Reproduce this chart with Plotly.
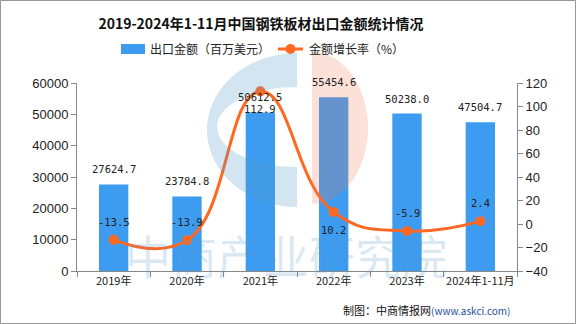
import math
import plotly.graph_objects as go

categories = ["2019年", "2020年", "2021年", "2022年", "2023年", "2024年1-11月"]
export_value = [27624.7, 23784.8, 50612.5, 55454.6, 50238.0, 47504.7]
growth_rate = [-13.5, -13.9, 112.9, 10.2, -5.9, 2.4]
growth_label_side = [1, 1, -1, -1, 1, 1]  # 1 = above point, -1 = below
series_names = ["出口金额（百万美元）", "金额增长率（%）"]

bar_color = "#3D9CF0"
line_color = "#FF6820"
font_cjk = "Noto Sans CJK SC, DejaVu Sans, sans-serif"
font_num = "DejaVu Sans Mono, monospace"

W, H = 576, 324
ML, MR, MT, MB = 77, 59, 83, 53
PW, PH = W - ML - MR, H - MT - MB


def px2paper(px, py):
    return (px - ML) / PW, (H - MB - py) / PH


def poly_path(points):
    pts = [px2paper(x, y) for x, y in points]
    return "M " + " L ".join(f"{x:.4f},{y:.4f}" for x, y in pts) + " Z"


def ell(cx, cy, rx, ry, a0, a1, step):
    return [(cx + rx * math.cos(math.radians(a)), cy - ry * math.sin(math.radians(a)))
            for a in range(a0, a1 + (1 if step > 0 else -1), step)]


fig = go.Figure()

fig.add_trace(go.Bar(
    x=categories, y=export_value, name=series_names[0],
    marker=dict(color=bar_color, line=dict(width=0)),
    width=0.4, showlegend=False,
))

fig.add_trace(go.Scatter(
    x=categories, y=growth_rate, name=series_names[1], yaxis="y2",
    mode="lines+markers",
    line=dict(color=line_color, width=3, shape="spline", smoothing=1.3),
    marker=dict(color=line_color, size=10),
    cliponaxis=False, showlegend=False,
))

for c, v in zip(categories, export_value):
    fig.add_annotation(x=c, y=v, xref="x", yref="y", text=f"{v:.1f}", showarrow=False,
                       yshift=15, font=dict(size=10.5, color="#222", family=font_num))

for c, v, s in zip(categories, growth_rate, growth_label_side):
    fig.add_annotation(x=c, y=v, xref="x", yref="y2", text=f"{v:.1f}", showarrow=False,
                       yshift=18 * s, font=dict(size=10.5, color="#222", family=font_num))

fig.update_layout(
    width=W, height=H,
    margin=dict(l=ML, r=MR, t=MT, b=MB, autoexpand=False),
    paper_bgcolor="white", plot_bgcolor="rgba(0,0,0,0)",
    font=dict(family=font_cjk, color="#222"),
    title=dict(text="<b>2019-2024年1-11月中国钢铁板材出口金额统计情况</b>",
               xref="paper", x=(261 - ML) / PW, xanchor="center", y=0.925, yanchor="middle",
               font=dict(size=14, color="#111", family=font_cjk)),
    showlegend=False,
    bargap=0.6,
    xaxis=dict(type="category", showline=True, linecolor="#888", linewidth=1,
               ticks="outside", tickson="boundaries", ticklen=5, tickcolor="#888",
               tickangle=0, automargin=False,
               tickfont=dict(size=11, color="#222"), showgrid=False, zeroline=False),
    yaxis=dict(range=[0, 60000], dtick=10000, showline=True, linecolor="#888",
               ticks="outside", ticklen=5, tickcolor="#888", showgrid=False,
               zeroline=False, tickfont=dict(size=13, color="#222", family="Liberation Sans, Arial"),
               tickformat="d", automargin=False),
    yaxis2=dict(range=[-40, 120], dtick=20, overlaying="y", side="right",
                showline=True, linecolor="#888", ticks="outside", ticklen=5,
                tickcolor="#888", showgrid=False, zeroline=False, automargin=False,
                tickfont=dict(size=13, color="#222", family="Liberation Sans, Arial")),
)

# legend (drawn manually to match the reference's wide swatches)
lx0, ly0 = px2paper(121, 54)
lx1, ly1 = px2paper(145, 44)
fig.add_shape(type="rect", xref="paper", yref="paper", x0=lx0, x1=lx1, y0=ly0, y1=ly1,
              fillcolor=bar_color, line=dict(width=0))
tx, ty = px2paper(148, 49)
fig.add_annotation(text=series_names[0], xref="paper", yref="paper", x=tx, y=ty,
                   xanchor="left", yanchor="middle", showarrow=False,
                   font=dict(size=12, color="#222", family=font_cjk))
ox0, oy = px2paper(278, 49)
ox1, _ = px2paper(303, 49)
fig.add_shape(type="line", xref="paper", yref="paper", x0=ox0, x1=ox1, y0=oy, y1=oy,
              line=dict(color=line_color, width=3))
cx0, cy0 = px2paper(285.5, 54)
cx1, cy1 = px2paper(295.5, 44)
fig.add_shape(type="circle", xref="paper", yref="paper", x0=cx0, x1=cx1, y0=cy0, y1=cy1,
              fillcolor=line_color, line=dict(width=0))
tx2, _ = px2paper(307, 49)
fig.add_annotation(text=series_names[1], xref="paper", yref="paper", x=tx2, y=ty,
                   xanchor="left", yanchor="middle", showarrow=False,
                   font=dict(size=12, color="#222", family=font_cjk))

# watermark logo: blue "C" and salmon half disc
blue_wm = "rgba(80,150,195,0.25)"
c_outer = ell(297, 130, 90, 77, 90, 270, 5)
c_inner = ell(297, 127, 80, 40, 270, 90, -5)
fig.add_shape(type="path", xref="paper", yref="paper",
              path=poly_path(c_outer + [(297, 207), (297, 167)] + c_inner + [(297, 87), (297, 53)]),
              fillcolor=blue_wm, line=dict(width=0), layer="above")
fig.add_shape(type="path", xref="paper", yref="paper", path=poly_path(ell(312, 128, 56, 76, -90, 90, 5)),
              fillcolor="rgba(240,120,80,0.22)", line=dict(width=0), layer="above")

fig.add_annotation(text="中商产业研究院", xref="paper", yref="paper", x=0.475, y=0.09,
                   yanchor="middle", showarrow=False,
                   font=dict(size=46, color="rgba(90,150,200,0.22)", family=font_cjk))

# footer
fig.add_annotation(text="制图：中商情报网<span style='color:#1F4FA0;font-size:10px'>(www.askci.com)</span>",
                   xref="paper", yref="paper", x=(512 - ML) / PW, xanchor="right", y=(271 - 310) / PH,
                   yanchor="middle", showarrow=False,
                   font=dict(size=11, color="#111", family=font_cjk))

# outer frame
x0, y0 = px2paper(0.5, H - 0.5)
x1, y1 = px2paper(W - 0.5, 0.5)
fig.add_shape(type="rect", xref="paper", yref="paper", x0=x0, x1=x1, y0=y0, y1=y1,
              line=dict(color="#999", width=1))

fig.write_html("out.html")
